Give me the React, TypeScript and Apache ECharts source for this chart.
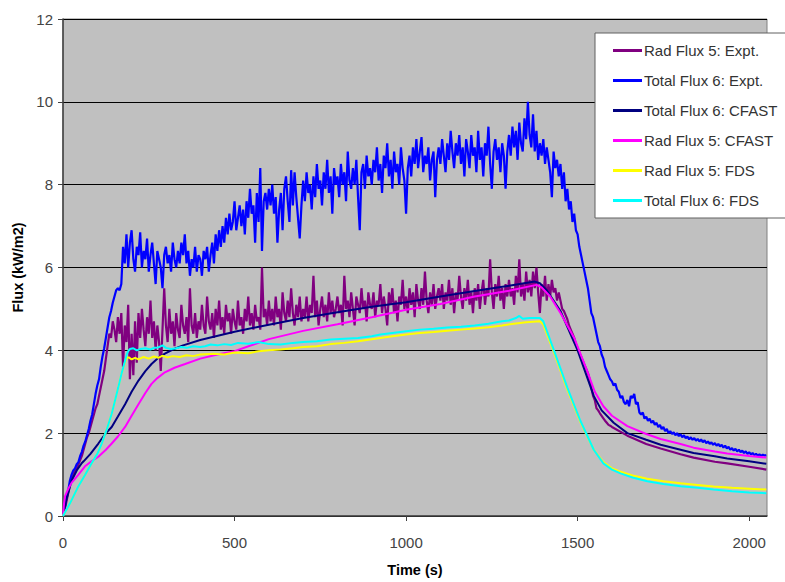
import React, { useEffect, useRef } from "react";
import * as echarts from "echarts";

// Time step (s) of the measured (noisy) series
const TIME_STEP = 5;

const seriesNames = [
  "Rad Flux 5: Expt.",
  "Total Flux 6: Expt.",
  "Total Flux 6: CFAST",
  "Rad Flux 5: CFAST",
  "Rad Flux 5: FDS",
  "Total Flux 6: FDS",
];

const xTicks = [0, 500, 1000, 1500, 2000];
const yTicks = [0, 2, 4, 6, 8, 10, 12];

// Rad Flux 5: Expt. — t = 0 .. 1595 s every 5 s
const rad5ExptHead = [
  0, 0.15, 0.35, 0.55, 0.75, 0.9, 1.0, 1.1, 1.15, 1.25, 1.35, 1.45, 1.6, 1.75, 1.9, 2.0, 2.15, 2.3, 2.45, 2.6,
  2.7, 2.9, 3.1, 3.3, 3.5, 3.8, 4.1, 4.4, 4.3, 4.7, 4.5, 4.2, 4.8, 4.4, 4.9, 3.6, 4.6, 4.2, 5.1, 3.3,
  4.4, 3.4, 4.7, 3.7, 4.9, 4.3, 5.0, 4.5, 4.1, 4.8, 4.4, 5.2, 4.3, 4.7, 4.0, 4.6, 4.2, 3.5, 4.5, 5.5,
  4.6, 4.2, 5.0, 4.4, 4.7, 4.1, 4.9, 4.5, 4.3, 5.1, 4.6, 4.4, 4.8, 4.2, 5.5, 4.6, 4.4, 4.9, 4.3, 4.7,
  4.5, 5.1, 4.6, 4.4, 5.3, 4.7, 4.5, 4.9, 4.3, 5.0, 4.6, 5.2, 4.5, 4.8, 4.4, 5.1, 4.7, 4.9, 4.4, 5.0,
  4.7, 4.5, 5.2, 4.6, 4.8, 4.4, 5.0, 4.7, 5.3, 4.6, 4.9, 4.5, 5.1, 4.7, 4.8, 4.5, 6.0, 4.8, 5.0, 4.6,
  5.2, 4.7, 5.0, 4.6, 5.3, 4.8, 5.0, 4.5, 5.4, 4.9, 4.7, 5.2, 4.8, 5.5, 4.9, 4.6, 5.1, 4.8, 5.3, 4.7,
  5.0, 4.8, 5.3, 4.7, 5.1, 4.9, 5.8, 4.8, 5.2, 4.6, 5.0, 5.3, 4.8, 5.1, 4.7, 5.4, 4.9, 5.2, 4.8, 5.0,
  5.3, 4.9, 5.1, 4.6, 5.8, 5.0, 5.2, 4.8, 5.4, 5.0, 4.6, 5.3, 5.1, 4.9, 5.5, 5.0, 5.2, 4.7, 5.4, 5.1,
  5.0, 5.4, 4.8, 5.2, 5.1, 5.6, 4.9, 5.3, 5.0, 4.6, 5.4, 5.1, 5.5, 4.9, 5.2, 4.7, 5.3, 5.1, 5.7, 5.0,
  5.3, 4.9, 5.5, 5.1, 5.4, 4.8, 5.6, 5.2, 5.0, 5.5, 5.1, 5.9, 5.2, 4.9, 5.4, 5.1, 5.6, 5.0, 5.3, 5.5,
  5.2, 5.6, 5.0, 5.4, 5.2, 5.7, 5.1, 5.5, 4.9, 5.4, 5.2, 5.8, 5.3, 5.0, 5.5, 5.2, 5.7, 5.1, 5.4, 4.9,
  5.5, 5.2, 5.6, 5.0, 5.4, 5.7, 5.1, 5.5, 5.3, 6.2, 5.4, 5.0, 5.6, 5.3, 5.8, 5.2, 5.5, 5.0, 5.6, 5.3,
  5.7, 5.3, 5.5, 5.1, 5.8, 5.4, 6.2, 5.3, 5.6, 5.2, 5.9, 5.4, 5.7, 5.3, 5.9, 5.5, 6.0, 5.4, 4.9, 5.6,
  5.3, 5.8, 5.2, 5.6, 5.3, 5.7, 5.4, 5.5, 5.2, 5.4, 5.2, 5.0, 4.95, 4.85, 4.75, 4.6, 4.5, 4.4, 4.3, 4.15,
  4.05, 3.95, 3.85, 3.75, 3.65, 3.55, 3.45, 3.3, 3.1, 2.9, 2.8, 2.6, 2.55, 2.48, 2.42, 2.36, 2.3, 2.25, 2.2, 2.18,
];
// Rad Flux 5: Expt. — smooth decay [time, value]
const rad5ExptTail: [number, number][] = [
  [1600, 2.15], [1645, 1.94], [1700, 1.74], [1742, 1.63], [1800, 1.49],
  [1838, 1.41], [1900, 1.31], [1936, 1.27], [2000, 1.19], [2050, 1.12],
];

// Total Flux 6: Expt. — t = 0 .. 2050 s every 5 s
const total6Expt = [
  0, 0.2, 0.45, 0.6, 0.85, 1.0, 1.1, 1.15, 1.25, 1.3, 1.45, 1.55, 1.7, 1.8, 1.95, 2.1, 2.3, 2.45, 2.7, 2.95,
  3.15, 3.3, 3.6, 3.85, 4.05, 4.3, 4.55, 4.8, 4.95, 5.15, 5.3, 5.45, 5.5, 5.45, 5.6, 6.5, 6.1, 6.8, 6.0, 6.6,
  6.9, 6.2, 5.9, 6.5, 6.3, 6.85, 6.0, 6.4, 6.2, 6.7, 5.9, 6.3, 6.6, 6.1, 5.6, 6.4, 6.2, 6.0, 5.5, 6.3,
  6.5, 6.1, 6.3, 5.9, 6.6, 6.2, 6.0, 6.4, 6.1, 6.6, 6.3, 6.8, 6.1, 6.4, 5.8, 6.2, 6.0, 6.5, 5.9, 6.3,
  6.2, 5.8, 6.4, 6.2, 6.5, 5.9, 6.3, 6.6, 6.1, 6.8, 6.4, 6.9, 6.5, 7.0, 6.6, 7.2, 6.8, 7.3, 6.9, 7.1,
  7.6, 6.9, 7.2, 7.5, 7.0, 7.4, 6.8, 7.6, 7.2, 7.9, 7.3, 7.5, 6.6, 7.8, 7.1, 8.4, 6.4, 7.6, 7.8, 7.4,
  7.9, 7.5, 8.0, 7.3, 7.7, 6.6, 7.4, 7.8, 6.9, 7.9, 8.2, 7.6, 7.1, 8.35, 7.5, 8.3, 7.7, 7.2, 6.7, 7.5,
  8.1, 7.6, 8.3, 7.8, 8.0, 7.4, 8.2, 7.7, 8.5, 7.9, 8.1, 7.5, 8.3, 7.9, 8.6, 7.8, 8.2, 7.3, 8.4, 8.0,
  8.2, 7.7, 8.5, 8.0, 8.3, 7.6, 8.8, 8.1, 7.9, 8.4, 8.0, 8.6, 7.7, 6.9, 8.3, 8.5, 7.9, 8.7, 8.2, 8.4,
  8.0, 8.6, 8.3, 8.9, 8.1, 8.5, 7.8, 8.7, 8.4, 9.0, 8.2, 8.6, 7.9, 8.8, 8.3, 8.5, 8.0, 8.9, 8.4, 8.1,
  7.3, 8.4, 8.7, 8.2, 8.9, 8.5, 9.1, 8.4, 8.8, 9.15, 8.3, 8.7, 8.5, 8.9, 8.1, 8.6, 8.8, 7.7, 8.6, 8.9,
  8.5, 9.1, 8.7, 8.3, 9.0, 8.6, 9.3, 8.8, 8.4, 9.0, 8.7, 9.2, 8.5, 8.9, 8.2, 9.1, 8.8, 8.4, 9.2, 8.7,
  8.9, 8.3, 9.3, 8.6, 8.9, 8.2, 9.0, 8.7, 9.4, 8.5, 7.9, 8.8, 9.1, 8.6, 8.9, 8.3, 9.0, 8.7, 7.9, 8.8,
  9.2, 8.7, 9.4, 8.9, 9.3, 8.6, 9.5, 9.0, 8.8, 9.6, 9.1, 10.0, 9.2, 8.9, 9.7, 8.8, 9.3, 8.6, 9.0, 8.7,
  9.1, 8.5, 8.9, 8.6, 8.3, 7.7, 8.8, 8.4, 8.6, 8.2, 8.5, 7.9, 8.3, 7.6, 7.9, 7.4, 7.6, 7.1, 7.3, 6.9,
  6.8, 6.5, 6.3, 6.1, 5.9, 5.7, 5.5, 5.2, 4.9, 4.8, 4.6, 4.4, 4.2, 4.1, 3.9, 3.8, 3.6, 3.5, 3.4, 3.3,
  3.25, 3.15, 3.2, 3.05, 3.0, 2.85, 2.9, 2.75, 2.7, 2.8, 2.65, 2.9, 2.85, 2.95, 2.7, 2.75, 2.5, 2.45, 2.5, 2.35,
  2.4, 2.3, 2.35, 2.25, 2.3, 2.2, 2.25, 2.15, 2.2, 2.1, 2.15, 2.05, 2.1, 2.0, 2.05, 1.98, 2.02, 1.95, 2.0, 1.93,
  1.97, 1.9, 1.95, 1.88, 1.92, 1.85, 1.9, 1.84, 1.88, 1.82, 1.86, 1.8, 1.85, 1.78, 1.83, 1.76, 1.8, 1.74, 1.78, 1.72,
  1.76, 1.7, 1.74, 1.68, 1.72, 1.65, 1.7, 1.63, 1.67, 1.6, 1.64, 1.58, 1.62, 1.56, 1.6, 1.54, 1.58, 1.52, 1.56, 1.5,
  1.54, 1.49, 1.52, 1.47, 1.5, 1.46, 1.49, 1.45, 1.48, 1.46, 1.47,
];

// Total Flux 6: CFAST [time, value]
const total6Cfast: [number, number][] = [
  [0, 0], [10, 0.4], [25, 0.85], [40, 1.1], [55, 1.28], [60, 1.32], [80, 1.5], [103, 1.75],
  [125, 2.0], [142, 2.15], [160, 2.4], [181, 2.7], [200, 3.0], [220, 3.27], [240, 3.5],
  [258, 3.67], [278, 3.82], [297, 3.92], [320, 4.02], [350, 4.12], [400, 4.25], [424, 4.3],
  [500, 4.45], [600, 4.62], [700, 4.78], [800, 4.92], [900, 5.05], [1000, 5.16], [1100, 5.3],
  [1200, 5.43], [1300, 5.56], [1375, 5.66], [1390, 5.62], [1410, 5.45], [1450, 4.95],
  [1500, 4.0], [1547, 2.9], [1570, 2.55], [1605, 2.25], [1645, 2.0], [1700, 1.84],
  [1742, 1.72], [1800, 1.6], [1838, 1.52], [1900, 1.44], [1936, 1.39], [2000, 1.32], [2050, 1.26],
];

// Rad Flux 5: CFAST [time, value]
const rad5Cfast: [number, number][] = [
  [0, 0], [3, 0.3], [6, 0.48], [15, 0.65], [25, 0.8], [45, 1.0], [64, 1.2], [85, 1.33],
  [103, 1.43], [125, 1.6], [142, 1.75], [160, 1.92], [181, 2.15], [200, 2.42], [220, 2.7],
  [240, 2.97], [258, 3.19], [275, 3.33], [297, 3.47], [325, 3.58], [356, 3.67], [400, 3.8],
  [450, 3.9], [500, 3.98], [600, 4.27], [700, 4.47], [800, 4.63], [900, 4.8], [1000, 4.98],
  [1100, 5.12], [1200, 5.3], [1300, 5.44], [1380, 5.58], [1395, 5.52], [1420, 5.3],
  [1450, 4.9], [1490, 4.3], [1528, 3.5], [1550, 3.0], [1575, 2.65], [1600, 2.42],
  [1645, 2.17], [1700, 1.98], [1742, 1.86], [1800, 1.74], [1838, 1.65], [1900, 1.56],
  [1936, 1.51], [2000, 1.45], [2050, 1.41],
];

// Rad Flux 5: FDS [time, value]
const rad5Fds: [number, number][] = [
  [0, 0], [20, 0.3], [45, 0.72], [65, 1.0], [83, 1.27], [100, 1.5], [113, 1.75], [128, 2.1],
  [142, 2.47], [152, 2.8], [161, 3.1], [171, 3.45], [181, 3.72], [186, 3.82], [192, 3.83],
  [200, 3.78], [210, 3.82], [220, 3.78], [235, 3.84], [250, 3.8], [265, 3.85], [278, 3.82],
  [290, 3.87], [305, 3.83], [320, 3.86], [340, 3.84], [360, 3.88], [380, 3.86], [400, 3.9],
  [440, 3.92], [470, 3.9], [500, 3.95], [540, 3.93], [570, 3.98], [600, 4.0], [634, 4.02],
  [670, 4.05], [700, 4.08], [740, 4.1], [780, 4.15], [820, 4.18], [860, 4.22], [900, 4.27],
  [925, 4.3], [960, 4.34], [1000, 4.38], [1040, 4.42], [1080, 4.44], [1120, 4.47],
  [1160, 4.5], [1200, 4.53], [1240, 4.56], [1280, 4.6], [1320, 4.65], [1350, 4.68],
  [1390, 4.7], [1400, 4.62], [1431, 3.95], [1470, 3.05], [1508, 2.27], [1547, 1.6],
  [1575, 1.3], [1600, 1.15], [1625, 1.07], [1660, 0.98], [1703, 0.9], [1750, 0.84],
  [1800, 0.79], [1850, 0.75], [1896, 0.71], [1950, 0.68], [2000, 0.66], [2050, 0.64],
];

// Total Flux 6: FDS [time, value]
const total6Fds: [number, number][] = [
  [0, 0], [20, 0.3], [45, 0.72], [65, 1.0], [83, 1.27], [100, 1.5], [113, 1.75], [128, 2.1],
  [142, 2.47], [152, 2.8], [161, 3.1], [171, 3.45], [181, 3.75], [186, 3.9], [190, 3.98],
  [195, 4.03], [205, 4.05], [215, 4.0], [225, 4.03], [240, 4.05], [255, 4.02], [265, 4.06],
  [278, 4.07], [290, 4.12], [300, 4.06], [315, 4.03], [330, 4.05], [345, 4.08], [360, 4.06],
  [380, 4.1], [400, 4.08], [414, 4.1], [430, 4.14], [450, 4.12], [470, 4.15], [490, 4.13],
  [510, 4.18], [540, 4.16], [570, 4.2], [600, 4.15], [634, 4.14], [670, 4.18], [700, 4.2],
  [740, 4.22], [780, 4.26], [820, 4.28], [860, 4.3], [900, 4.34], [925, 4.38], [960, 4.42],
  [1000, 4.46], [1040, 4.5], [1080, 4.52], [1120, 4.55], [1160, 4.57], [1200, 4.6],
  [1240, 4.64], [1280, 4.7], [1300, 4.72], [1320, 4.78], [1330, 4.83], [1340, 4.76],
  [1360, 4.78], [1390, 4.78], [1400, 4.7], [1431, 4.0], [1470, 3.1], [1508, 2.3],
  [1547, 1.6], [1575, 1.27], [1600, 1.12], [1625, 1.03], [1660, 0.93], [1703, 0.84],
  [1750, 0.77], [1800, 0.72], [1850, 0.68], [1896, 0.64], [1950, 0.6], [2000, 0.57], [2050, 0.55],
];

const seriesColors = ["#800080", "#0000ff", "#000080", "#ff00ff", "#ffff00", "#00ffff"];

export default function App() {
  const ref = useRef<HTMLDivElement>(null);

  useEffect(() => {
    if (!ref.current) return;
    const chart = echarts.init(ref.current, undefined, { renderer: "svg" });

    const rad5Expt: [number, number][] = rad5ExptHead
      .map((v, i) => [i * TIME_STEP, v] as [number, number])
      .concat(rad5ExptTail);
    const total6ExptData: [number, number][] = total6Expt.map((v, i) => [i * TIME_STEP, v]);

    const datasets = [rad5Expt, total6ExptData, total6Cfast, rad5Cfast, rad5Fds, total6Fds];
    const widths = [2.2, 2.2, 2, 2, 2, 2];

    const option: any = {
      animation: false,
      backgroundColor: "#ffffff",
      textStyle: { fontFamily: "Liberation Sans, Arial, sans-serif" },
      grid: {
        left: 63,
        right: 18,
        top: 19,
        bottom: 62,
        show: true,
        backgroundColor: "#c0c0c0",
        borderColor: "#808080",
        borderWidth: 1,
      },
      legend: {
        data: seriesNames,
        orient: "vertical",
        left: 595,
        top: 33,
        icon: "rect",
        itemWidth: 29,
        itemHeight: 3,
        itemGap: 15,
        padding: [10, 10, 10, 18],
        backgroundColor: "#ffffff",
        borderColor: "#606060",
        borderWidth: 1,
        textStyle: { fontSize: 15, color: "#333", padding: [0, 0, 0, -3] },
      },
      xAxis: {
        type: "value",
        min: 0,
        max: 2052,
        interval: 500,
        name: "Time (s)",
        nameLocation: "middle",
        nameGap: 46,
        nameTextStyle: { fontSize: 14.5, fontWeight: "bold", color: "#000" },
        axisLine: { show: true, lineStyle: { color: "#404040", width: 1.5 } },
        axisTick: { show: true, length: 5, lineStyle: { color: "#404040" } },
        axisLabel: {
          fontSize: 15,
          color: "#444",
          margin: 19,
          showMaxLabel: false,
          formatter: (v: number) => (xTicks.includes(v) ? String(v) : ""),
        },
        splitLine: { show: false },
      },
      yAxis: {
        type: "value",
        min: 0,
        max: 12,
        interval: 2,
        name: "Flux (kW/m2)",
        nameLocation: "middle",
        nameGap: 36,
        nameTextStyle: { fontSize: 14.5, fontWeight: "bold", color: "#000" },
        axisLine: { show: true, lineStyle: { color: "#404040", width: 1.5 } },
        axisTick: { show: true, length: 5, lineStyle: { color: "#404040" } },
        axisLabel: {
          fontSize: 15,
          color: "#444",
          margin: 10,
          formatter: (v: number) => (yTicks.includes(v) ? String(v) : ""),
        },
        splitLine: { show: true, lineStyle: { color: "#000000", width: 1 } },
      },
      series: seriesNames.map((name, i) => ({
        name,
        type: "line",
        data: datasets[i],
        showSymbol: false,
        symbol: "none",
        color: seriesColors[i],
        lineStyle: { color: seriesColors[i], width: widths[i] },
        z: 2 + i,
      })),
    };

    chart.setOption(option);
    return () => chart.dispose();
  }, []);

  return (
    <div
      ref={ref}
      style={{ position: "fixed", left: 0, top: 0, width: 785, height: 582, background: "#fff" }}
    />
  );
}
